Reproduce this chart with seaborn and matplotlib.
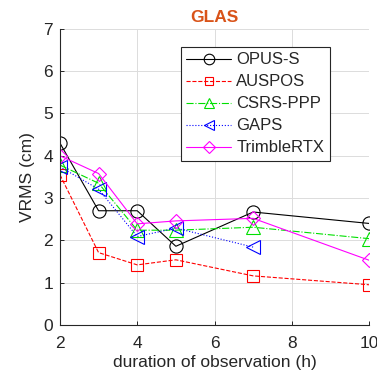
import matplotlib
matplotlib.use("Agg")
import matplotlib.pyplot as plt
import seaborn as sns
import pandas as pd

sns.set_theme(style="white")
plt.rcParams['font.family'] = ['Liberation Sans', 'DejaVu Sans']

hours = [2, 3, 4, 5, 7, 10]
opus_s = [4.30, 2.70, 2.70, 1.86, 2.67, 2.40]
auspos = [3.55, 1.71, 1.42, 1.54, 1.16, 0.95]
csrs_ppp = [3.78, 3.35, 2.24, 2.24, 2.31, 2.04]
gaps_hours = [2, 3, 4, 5, 7]
gaps = [3.74, 3.21, 2.09, 2.29, 1.84]
trimble_rtx = [4.00, 3.58, 2.39, 2.46, 2.52, 1.53]

series = [
    ("OPUS-S", hours, opus_s, "#000000", "o", "-"),
    ("AUSPOS", hours, auspos, "#FF0000", "s", "--"),
    ("CSRS-PPP", hours, csrs_ppp, "#00E000", "^", "-."),
    ("GAPS", gaps_hours, gaps, "#0000FF", "<", ":"),
    ("TrimbleRTX", hours, trimble_rtx, "#FF00FF", "D", "-"),
]

fig = plt.figure(figsize=(3.77, 3.85), dpi=100)
ax = fig.add_axes([0.159, 0.156, 0.820, 0.769])

for name, xs, ys, col, mk, ls in series:
    df = pd.DataFrame({"h": xs, "v": ys})
    ms = 7.5 if mk == "D" else (8 if mk == "s" else 9.5)
    sns.lineplot(data=df, x="h", y="v", ax=ax, color=col, marker=mk,
                 linestyle=ls, linewidth=0.8, markersize=ms,
                 markerfacecolor="none", markeredgecolor=col,
                 markeredgewidth=0.8, label=name)

ax.set_xlim(2, 10)
ax.set_ylim(0, 7)
ax.set_xticks([2, 4, 6, 8, 10])
ax.set_yticks(range(0, 8))
ax.grid(True, color="#dcdcdc", linewidth=0.7)
for s in ["top", "right"]:
    ax.spines[s].set_visible(False)
for s in ["left", "bottom"]:
    ax.spines[s].set_color("#262626")
    ax.spines[s].set_linewidth(0.8)
ax.tick_params(direction="in", length=3, width=0.7, color="#262626",
               labelsize=12.5, labelcolor="#262626", left=True, bottom=True)
ax.tick_params(axis="x", pad=8)
ax.tick_params(axis="y", pad=5)
ax.set_xlabel("duration of observation (h)", fontsize=12.5, color="#262626", labelpad=3)
ax.set_ylabel("VRMS (cm)", fontsize=12.5, color="#262626", labelpad=6)
ax.set_title("GLAS", fontsize=12.5, fontweight="bold", color="#D95319", pad=5)

leg = ax.legend(loc="upper left", bbox_to_anchor=(0.39, 0.94), fontsize=12,
                frameon=True, fancybox=False, edgecolor="#262626",
                handlelength=2.7, handletextpad=0.3, borderpad=0.35,
                labelspacing=0.42, borderaxespad=0, markerscale=0.8)
leg.get_frame().set_linewidth(0.8)
leg.get_frame().set_facecolor("white")
leg.get_frame().set_alpha(1)

fig.savefig("out.png", dpi=100)
